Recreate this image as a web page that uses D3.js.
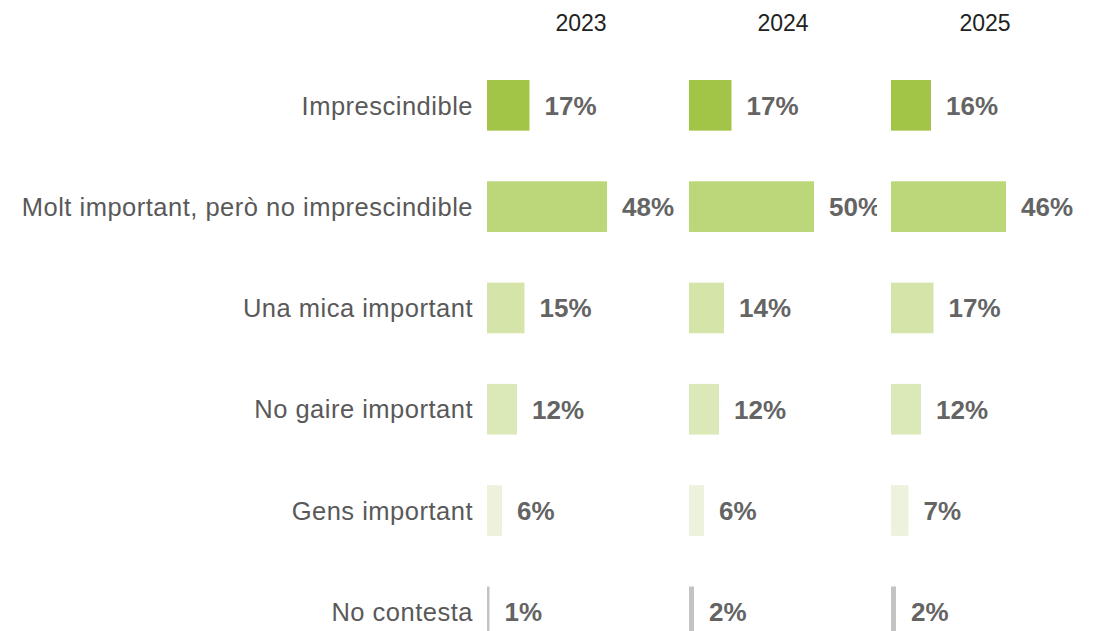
<!DOCTYPE html>
<html>
<head>
<meta charset="utf-8">
<script src="https://cdn.jsdelivr.net/npm/d3@7"></script>
<style>
  html, body { margin: 0; padding: 0; background: #ffffff; }
  svg { display: block; }
</style>
</head>
<body>
<svg id="chart" width="1104" height="631"></svg>
<script>
const categories = [
  "Imprescindible",
  "Molt important, però no imprescindible",
  "Una mica important",
  "No gaire important",
  "Gens important",
  "No contesta"
];
const years = ["2023", "2024", "2025"];
const values2023 = [17, 48, 15, 12, 6, 1];
const values2024 = [17, 50, 14, 12, 6, 2];
const values2025 = [16, 46, 17, 12, 7, 2];
const colors = ["#a3c547", "#bcd67a", "#d5e5a9", "#dbe8b8", "#edf2dd", "#c3c3c3"];

const seriesByYear = { "2023": values2023, "2024": values2024, "2025": values2025 };

const W = 1104, H = 631;
const svg = d3.select("#chart");

const step = 101.3;
const y0 = 80 - 0.25 * step;
const y = d3.scaleBand()
  .domain(categories)
  .range([y0, y0 + categories.length * step])
  .paddingInner(0.5)
  .paddingOuter(0.25);

const col = d3.scaleBand()
  .domain(years)
  .range([487, 1079])
  .paddingInner(14 / 202)
  .paddingOuter(0);

const x = d3.scaleLinear().domain([0, 100]).range([0, 250]);
const color = d3.scaleOrdinal().domain(categories).range(colors);

// Category labels
svg.append("g")
  .selectAll("text")
  .data(categories)
  .join("text")
  .attr("x", 473)
  .attr("y", d => y(d) + y.bandwidth() / 2)
  .attr("dy", "0.36em")
  .attr("text-anchor", "end")
  .attr("font-family", "Liberation Sans, Arial, sans-serif")
  .attr("font-size", 25.5)
  .attr("letter-spacing", "0.5px")
  .attr("fill", "#595959")
  .text(d => d);

// Year headers
svg.append("g")
  .selectAll("text")
  .data(years)
  .join("text")
  .attr("x", d => col(d) + col.bandwidth() / 2)
  .attr("y", 31)
  .attr("text-anchor", "middle")
  .attr("font-family", "Liberation Sans, Arial, sans-serif")
  .attr("font-size", 23)
  .attr("fill", "#222222")
  .text(d => d);

// Columns
const defs = svg.append("defs");
years.forEach((yr, i) => {
  defs.append("clipPath")
    .attr("id", "clip" + yr)
    .append("rect")
    .attr("x", col(yr))
    .attr("y", 0)
    .attr("width", col.bandwidth())
    .attr("height", H);

  const rows = categories.map((c, j) => ({ cat: c, val: seriesByYear[yr][j] }));
  const g = svg.append("g").attr("clip-path", `url(#clip${yr})`);

  g.selectAll("rect")
    .data(rows)
    .join("rect")
    .attr("x", col(yr))
    .attr("y", d => y(d.cat))
    .attr("width", d => x(d.val))
    .attr("height", y.bandwidth())
    .attr("fill", d => color(d.cat));

  g.selectAll("text")
    .data(rows)
    .join("text")
    .attr("x", d => col(yr) + x(d.val) + 15)
    .attr("y", d => y(d.cat) + y.bandwidth() / 2)
    .attr("dy", "0.36em")
    .attr("font-family", "Liberation Sans, Arial, sans-serif")
    .attr("font-size", 26)
    .attr("font-weight", "bold")
    .attr("fill", "#646464")
    .text(d => d.val + "%");
});
</script>
</body>
</html>
